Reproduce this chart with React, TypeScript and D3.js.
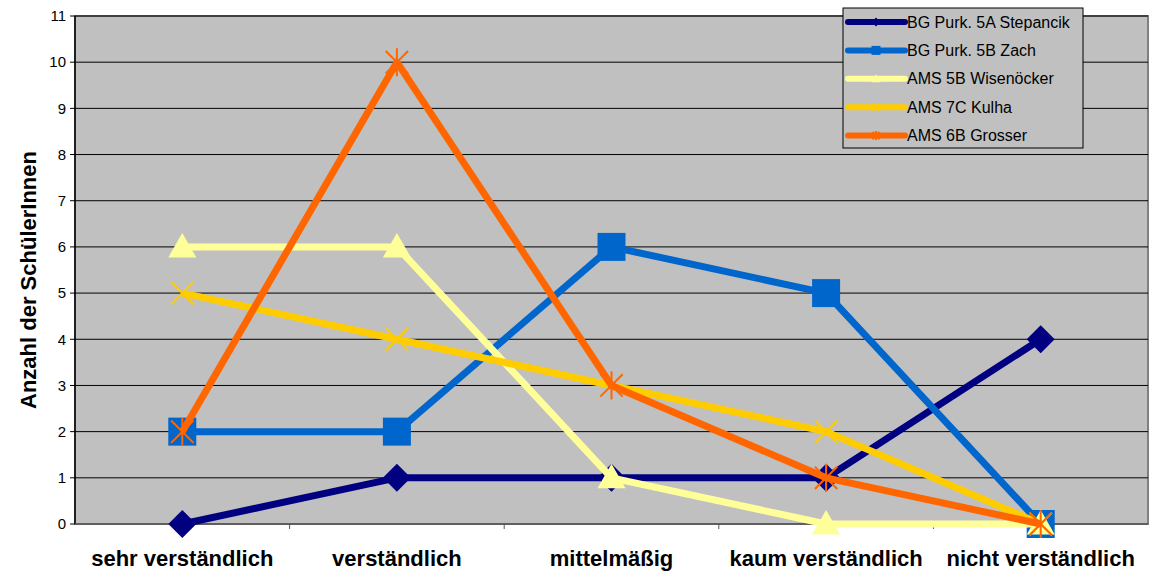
import React from 'react';
import * as d3 from 'd3';

const categories = ['sehr verständlich', 'verständlich', 'mittelmäßig', 'kaum verständlich', 'nicht verständlich'];
const seriesNames = ['BG Purk. 5A Stepancik', 'BG Purk. 5B Zach', 'AMS 5B Wisenöcker', 'AMS 7C Kulha', 'AMS 6B Grosser'];
const stepancik = [0, 1, 1, 1, 4];
const zach = [2, 2, 6, 5, 0];
const wisenoecker = [6, 6, 1, 0, 0];
const kulha = [5, 4, 3, 2, 0];
const grosser = [2, 10, 3, 1, 0];
const yTicks = [0, 1, 2, 3, 4, 5, 6, 7, 8, 9, 10, 11];

const colors = ['#000080', '#0066cc', '#ffff99', '#ffcc00', '#ff6600'];
const shapes = ['diamond', 'square', 'triangle', 'x', 'star'];

const W = 1152;
const H = 576;
const left = 75;
const right = 1148;
const top = 16;
const bottom = 524;

function Marker({ shape, color, x, y, s }: { shape: string; color: string; x: number; y: number; s: number }) {
  const h = s / 2;
  if (shape === 'diamond') {
    return <path d={`M${x},${y - h}L${x + h},${y}L${x},${y + h}L${x - h},${y}Z`} fill={color} />;
  }
  if (shape === 'square') {
    return <rect x={x - h} y={y - h} width={s} height={s} fill={color} />;
  }
  if (shape === 'triangle') {
    return <path d={`M${x},${y - h}L${x + h},${y + h * 0.75}L${x - h},${y + h * 0.75}Z`} fill={color} />;
  }
  const k = h * 0.8;
  return (
    <g stroke={color} strokeWidth={2}>
      <line x1={x - k} y1={y - k} x2={x + k} y2={y + k} />
      <line x1={x - k} y1={y + k} x2={x + k} y2={y - k} />
      {shape === 'star' && <line x1={x} y1={y - h} x2={x} y2={y + h} />}
    </g>
  );
}

export default function App() {
  const series = [stepancik, zach, wisenoecker, kulha, grosser];
  const x = d3.scaleBand<string>().domain(categories).range([left, right]);
  const y = d3.scaleLinear().domain([0, 11]).range([bottom, top]);
  const cx = (c: string) => (x(c) as number) + x.bandwidth() / 2;
  const line = d3
    .line<number>()
    .x((_, i) => cx(categories[i]))
    .y((d) => y(d));
  const font = '"Liberation Sans", Arial, sans-serif';
  const legX = 843;
  const legY = 8;
  return (
    <svg width={W} height={H} style={{ position: 'absolute', left: 0, top: 0 }} fontFamily={font}>
      <rect x={left} y={top} width={right - left} height={bottom - top} fill="#c0c0c0" stroke="#808080" strokeWidth={2} />
      {yTicks.slice(1).map((t) => (
        <line key={t} x1={left} x2={right} y1={y(t)} y2={y(t)} stroke="#000" strokeWidth={1} />
      ))}
      <line x1={left} x2={left} y1={top} y2={bottom} stroke="#000" strokeWidth={1.5} />
      <line x1={left} x2={right} y1={bottom} y2={bottom} stroke="#555" strokeWidth={1.5} />
      {yTicks.map((t) => (
        <g key={t}>
          <line x1={left - 5} x2={left} y1={y(t)} y2={y(t)} stroke="#000" />
          <text x={left - 9} y={y(t)} dy="0.35em" textAnchor="end" fontSize={15} fill="#000">
            {t}
          </text>
        </g>
      ))}
      {categories.map((c, i) => (
        <g key={c}>
          {i > 0 && <line x1={x(c)} x2={x(c)} y1={bottom} y2={bottom + 5} stroke="#555" />}
          <text x={cx(c)} y={566} textAnchor="middle" fontSize={22} fontWeight="bold" fill="#000">
            {c}
          </text>
        </g>
      ))}
      <text
        transform={`translate(36,${(top + bottom) / 2 + 10}) rotate(-90)`}
        textAnchor="middle"
        fontSize={22}
        fontWeight="bold"
        fill="#000"
      >
        Anzahl der SchülerInnen
      </text>
      {series.map((vals, si) => (
        <g key={si}>
          <path d={line(vals) as string} fill="none" stroke={colors[si]} strokeWidth={7} strokeLinejoin="round" />
          {vals.map((v, i) => (
            <Marker key={i} shape={shapes[si]} color={colors[si]} x={cx(categories[i])} y={y(v)} s={28} />
          ))}
        </g>
      ))}
      <rect x={legX} y={legY} width={240} height={140} fill="#c0c0c0" stroke="#000" strokeWidth={1} />
      {seriesNames.map((n, i) => {
        const ly = legY + 14 + i * 28.4;
        return (
          <g key={n}>
            <line x1={legX + 5} x2={legX + 62} y1={ly} y2={ly} stroke={colors[i]} strokeWidth={6} strokeLinecap="round" />
            <Marker shape={shapes[i]} color={colors[i]} x={legX + 33} y={ly} s={9} />
            <text x={legX + 64} y={ly} dy="0.35em" fontSize={16} fill="#000">
              {n}
            </text>
          </g>
        );
      })}
    </svg>
  );
}
